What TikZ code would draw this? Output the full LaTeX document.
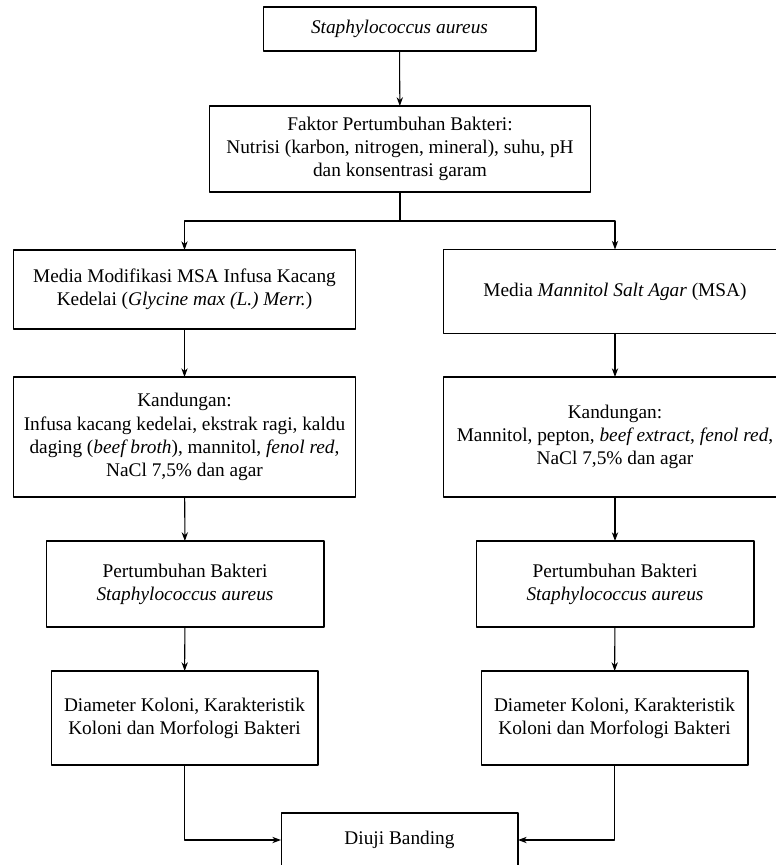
\documentclass[tikz,border=0pt]{standalone}
\usepackage{fontspec}
\setmainfont{Liberation Serif}
\usetikzlibrary{arrows.meta}
\begin{document}
\begin{tikzpicture}[x=0.02cm, y=-0.02cm, line cap=round, line join=round,
  box/.style={draw, line width=0.6pt, align=center, inner sep=0pt, outer sep=0pt,
    font=\fontsize{11}{13.2}\selectfont},
  arr/.style={line width=0.6pt, -{Stealth[length=5pt, width=3.6pt]}}]
  \useasboundingbox (0,0) rectangle (776,865);
  \clip (0,0) rectangle (776,865);

  \node[box, minimum width=5.46cm, minimum height=0.88cm] (sa) at (399.5,29) {\textit{Staphylococcus aureus}};
  \node[box, minimum width=7.64cm, minimum height=1.72cm] (faktor) at (400,149)
    {Faktor Pertumbuhan Bakteri:\\Nutrisi (karbon, nitrogen, mineral), suhu, pH\\dan konsentrasi garam};
  \coordinate (split) at (400,221);

  \node[box, minimum width=6.86cm, minimum height=1.58cm] (mediaL) at (184.5,289.5)
    {Media Modifikasi MSA Infusa Kacang\\Kedelai (\textit{Glycine max (L.) Merr.})};
  \node[box, minimum width=6.88cm, minimum height=1.68cm] (mediaR) at (615,291.5)
    {Media \textit{Mannitol Salt Agar} (MSA)};

  \node[box, minimum width=6.86cm, minimum height=2.40cm] (kandL) at (184.5,437)
    {Kandungan:\\Infusa kacang kedelai, ekstrak ragi, kaldu\\daging (\textit{beef broth}), mannitol, \textit{fenol red},\\NaCl 7,5\% dan agar};
  \node[box, minimum width=6.88cm, minimum height=2.40cm] (kandR) at (615,437)
    {Kandungan:\\Mannitol, pepton, \textit{beef extract}, \textit{fenol red},\\NaCl 7,5\% dan agar};

  \node[box, minimum width=5.56cm, minimum height=1.72cm] (tumbuhL) at (185,584)
    {Pertumbuhan Bakteri\\\textit{Staphylococcus aureus}};
  \node[box, minimum width=5.56cm, minimum height=1.72cm] (tumbuhR) at (615,584)
    {Pertumbuhan Bakteri\\\textit{Staphylococcus aureus}};

  \node[box, minimum width=5.34cm, minimum height=1.88cm] (koloniL) at (184.5,718)
    {Diameter Koloni, Karakteristik\\Koloni dan Morfologi Bakteri};
  \node[box, minimum width=5.34cm, minimum height=1.88cm] (koloniR) at (614.5,718)
    {Diameter Koloni, Karakteristik\\Koloni dan Morfologi Bakteri};

  \node[box, minimum width=4.74cm, minimum height=1.08cm] (banding) at (399.5,840) {Diuji Banding};

  \draw[arr] (sa) -- (faktor);
  \draw[arr] (faktor.south) -- (split) -| (mediaL.north);
  \draw[arr] (split) -| (mediaR.north);
  \draw[arr] (mediaL) -- (kandL);
  \draw[arr] (mediaR) -- (kandR);
  \draw[arr] (kandL) -- (tumbuhL);
  \draw[arr] (kandR) -- (tumbuhR);
  \draw[arr] (tumbuhL) -- (koloniL);
  \draw[arr] (tumbuhR) -- (koloniR);
  \draw[arr] (koloniL.south) |- (banding.west);
  \draw[arr] (koloniR.south) |- (banding.east);
\end{tikzpicture}
\end{document}
